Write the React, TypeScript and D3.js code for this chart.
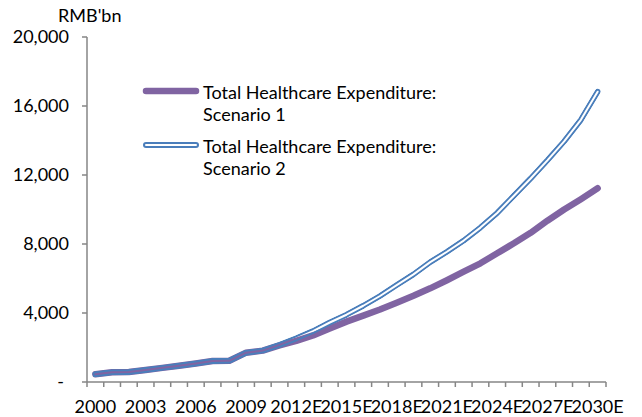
import React, { useRef, useEffect } from "react";
import * as d3 from "d3";

const years = [
  "2000", "2001", "2002", "2003", "2004", "2005", "2006", "2007", "2008", "2009",
  "2010", "2011", "2012E", "2013E", "2014E", "2015E", "2016E", "2017E", "2018E", "2019E",
  "2020E", "2021E", "2022E", "2023E", "2024E", "2025E", "2026E", "2027E", "2028E", "2029E",
  "2030E",
];

// RMB bn
const scenario1 = [
  450, 560, 580, 690, 820, 940, 1070, 1220, 1230, 1700,
  1820, 2120, 2380, 2700, 3100, 3500, 3850, 4200, 4600, 5000,
  5430, 5900, 6395, 6880, 7460, 8040, 8650, 9350, 10000, 10600,
  11230,
];

const scenario2 = [
  450, 560, 580, 690, 820, 940, 1070, 1220, 1230, 1700,
  1820, 2150, 2530, 2950, 3450, 3900, 4420, 4985, 5620, 6240,
  6950, 7550, 8200, 8950, 9800, 10800, 11800, 12850, 13950, 15200,
  16830,
];

const yTicks = [0, 4000, 8000, 12000, 16000, 20000];

const seriesNames = [
  ["Total Healthcare Expenditure:", "Scenario 1"],
  ["Total Healthcare Expenditure:", "Scenario 2"],
];

const width = 642;
const height = 417;
const FONT = "Lato, 'Open Sans', sans-serif";
const PURPLE = "#8064A2";
const BLUE = "#4A7EBB";
const AXIS = "#868686";

const App = () => {
  const node: any = useRef();

  useEffect(() => {
    const svg = d3.select(node.current);
    svg.selectAll("*").remove();

    const margin = { top: 37, left: 87, right: 36, bottom: 35 };
    const x = d3
      .scaleBand()
      .domain(years)
      .range([margin.left, width - margin.right]);
    const y = d3
      .scaleLinear()
      .domain([0, 20000])
      .range([height - margin.bottom, margin.top]);

    const cx = (i: number) => (x(years[i]) as number) + x.bandwidth() / 2;

    const line2 = d3
      .line<number>()
      .x((_, i) => cx(i))
      .y((d) => y(d));

    // mask for the double (compound) line of scenario 2
    const defs = svg.append("defs");
    const mask = defs
      .append("mask")
      .attr("id", "dbl")
      .attr("maskUnits", "userSpaceOnUse")
      .attr("x", 0)
      .attr("y", 0)
      .attr("width", width)
      .attr("height", height);
    mask
      .append("path")
      .attr("d", line2(scenario2))
      .attr("fill", "none")
      .attr("stroke", "white")
      .attr("stroke-width", 6)
      .attr("stroke-linecap", "round")
      .attr("stroke-linejoin", "round");
    mask
      .append("path")
      .attr("d", line2(scenario2))
      .attr("fill", "none")
      .attr("stroke", "black")
      .attr("stroke-width", 2)
      .attr("stroke-linecap", "round")
      .attr("stroke-linejoin", "round");

    // axes
    const x0 = margin.left;
    const x1 = width - margin.right;
    const yb = y(0);

    svg
      .append("line")
      .attr("x1", x0)
      .attr("x2", x0)
      .attr("y1", y(20000))
      .attr("y2", yb)
      .attr("stroke", AXIS)
      .attr("stroke-width", 1.5);
    svg
      .selectAll("ytick")
      .data(yTicks)
      .enter()
      .append("line")
      .attr("x1", x0 - 5)
      .attr("x2", x0)
      .attr("y1", (d) => y(d))
      .attr("y2", (d) => y(d))
      .attr("stroke", AXIS)
      .attr("stroke-width", 1.5);
    svg
      .selectAll("ylab")
      .data(yTicks)
      .enter()
      .append("text")
      .attr("x", (d) => (d === 0 ? 64 : 69))
      .attr("y", (d) => y(d) + 6)
      .attr("text-anchor", "end")
      .attr("font-family", FONT)
      .attr("font-size", 18)
      .attr("fill", "#000")
      .text((d) => (d === 0 ? "-" : d3.format(",")(d)));

    svg
      .append("text")
      .attr("x", 58)
      .attr("y", 22)
      .attr("font-family", FONT)
      .attr("font-size", 18)
      .text("RMB'bn");

    svg
      .append("line")
      .attr("x1", x0)
      .attr("x2", x1)
      .attr("y1", yb)
      .attr("y2", yb)
      .attr("stroke", AXIS)
      .attr("stroke-width", 1.5);
    svg
      .selectAll("xtick")
      .data(d3.range(years.length + 1))
      .enter()
      .append("line")
      .attr("x1", (i) => x0 + i * x.step())
      .attr("x2", (i) => x0 + i * x.step())
      .attr("y1", yb)
      .attr("y2", yb + 5)
      .attr("stroke", AXIS)
      .attr("stroke-width", 1.5);
    svg
      .selectAll("xlab")
      .data(years.filter((_, i) => i % 3 === 0))
      .enter()
      .append("text")
      .attr("x", (d) => (x(d) as number) + x.bandwidth() / 2)
      .attr("y", 413)
      .attr("text-anchor", "middle")
      .attr("font-family", FONT)
      .attr("font-size", 18)
      .text((d) => d);

    // lines
    const line1 = d3
      .line<number>()
      .x((_, i) => cx(i))
      .y((d) => y(d));

    svg
      .append("path")
      .attr("d", line1(scenario1))
      .attr("fill", "none")
      .attr("stroke", PURPLE)
      .attr("stroke-width", 6.5)
      .attr("stroke-linecap", "round")
      .attr("stroke-linejoin", "round");

    svg
      .append("path")
      .attr("d", line2(scenario2))
      .attr("fill", "none")
      .attr("stroke", BLUE)
      .attr("stroke-width", 6)
      .attr("stroke-linecap", "round")
      .attr("stroke-linejoin", "round")
      .attr("mask", "url(#dbl)");

    // legend
    const legendY = [91, 145];
    seriesNames.forEach((names, k) => {
      const ly = legendY[k];
      if (k === 0) {
        svg
          .append("line")
          .attr("x1", 146)
          .attr("x2", 196)
          .attr("y1", ly)
          .attr("y2", ly)
          .attr("stroke", PURPLE)
          .attr("stroke-width", 6.5)
          .attr("stroke-linecap", "round");
      } else {
        svg
          .append("line")
          .attr("x1", 146)
          .attr("x2", 196)
          .attr("y1", ly)
          .attr("y2", ly)
          .attr("stroke", BLUE)
          .attr("stroke-width", 6)
          .attr("stroke-linecap", "round");
        svg
          .append("line")
          .attr("x1", 146)
          .attr("x2", 196)
          .attr("y1", ly)
          .attr("y2", ly)
          .attr("stroke", "#fff")
          .attr("stroke-width", 2)
          .attr("stroke-linecap", "round");
      }
      names.forEach((t, j) => {
        svg
          .append("text")
          .attr("x", 203)
          .attr("y", ly + 8 + j * 22)
          .attr("font-family", FONT)
          .attr("font-size", 18)
          .text(t);
      });
    });
  }, []);

  return (
    <svg
      ref={node}
      width={width}
      height={height}
      style={{ position: "absolute", left: 0, top: 0, background: "#fff" }}
    ></svg>
  );
};

export default App;
